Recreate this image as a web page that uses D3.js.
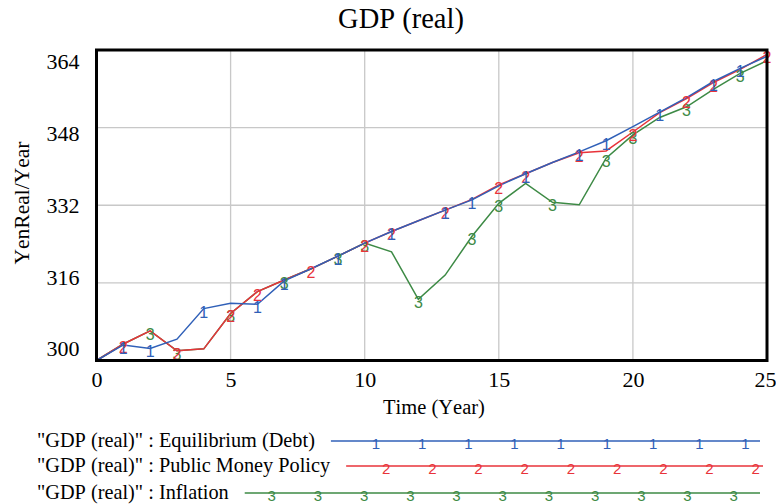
<!DOCTYPE html>
<html>
<head>
<meta charset="utf-8">
<script src="https://cdn.jsdelivr.net/npm/d3@7/dist/d3.min.js"></script>
<style>
  html, body { margin: 0; padding: 0; background: #fff; }
  svg { display: block; }
  text { font-kerning: none; }
</style>
</head>
<body>
<svg id="chart" width="776" height="504"></svg>
<script>
// ---------------- DATA ----------------
const years = d3.range(0, 26);
const equilibriumDebt = [300, 303.2, 302.5, 304.4, 310.7, 311.8, 311.6, 316.4, 318.9, 321.5, 324.2, 326.6, 328.8, 331.0, 333.1, 336.0, 338.5, 340.8, 343.0, 345.3, 348.2, 351.2, 354.2, 357.5, 360.2, 362.7];
const publicMoneyPolicy = [300, 303.4, 306.1, 302.0, 302.4, 309.7, 314.2, 316.6, 318.9, 321.5, 324.2, 326.6, 328.8, 331.0, 333.2, 336.2, 338.5, 340.8, 342.8, 343.2, 347.1, 351.1, 354.0, 357.3, 360.0, 363.1];
const inflation = [300, 303.4, 306.1, 302.0, 302.4, 309.7, 314.2, 316.6, 318.9, 321.5, 324.2, 322.4, 312.6, 317.6, 325.6, 332.4, 336.5, 332.6, 332.1, 341.7, 346.5, 350.1, 352.3, 355.9, 359.2, 361.8];
const markerYears1 = [1, 2, 4, 6, 7, 9, 11, 13, 14, 16, 18, 19, 21, 23, 24];
const markerYears2 = [1, 3, 5, 6, 8, 10, 11, 13, 15, 16, 18, 20, 22, 23, 25];
const markerYears3 = [2, 3, 5, 7, 9, 10, 12, 14, 15, 17, 19, 20, 22, 24];
const xTicks = [0, 5, 10, 15, 20, 25];
const yTicks = [300, 316, 332, 348, 364];
const seriesNames = ['"GDP (real)" : Equilibrium (Debt)', '"GDP (real)" : Public Money Policy', '"GDP (real)" : Inflation'];
const seriesSymbols = ["1", "2", "3"];
const title = "GDP (real)";
const xTitle = "Time (Year)";
const yTitle = "YenReal/Year";

// ---------------- LAYOUT ----------------
const SERIF = '"Liberation Serif"';
const SANS = '"Liberation Sans"';
const colors = ["#3060b8", "#e8333a", "#3d8a45"];
const svg = d3.select("#chart");
const L = 96.5, R = 767, T = 50, B = 360.5;
const x = d3.scaleLinear().domain([0, 25]).range([L, R]);
const y = d3.scaleLinear().domain([300, 364]).range([B, T]);

// gridlines
const grid = svg.append("g");
grid.selectAll("line.v").data(xTicks.slice(1, -1)).join("line")
  .attr("x1", d => x(d)).attr("x2", d => x(d)).attr("y1", T).attr("y2", B)
  .attr("stroke", "#c8c8c8").attr("stroke-width", 1.3);
grid.selectAll("line.h").data(yTicks.slice(1, -1)).join("line")
  .attr("x1", L).attr("x2", R).attr("y1", d => y(d)).attr("y2", d => y(d))
  .attr("stroke", "#c8c8c8").attr("stroke-width", 1.3);

// series
const series = [
  { values: equilibriumDebt, marks: markerYears1 },
  { values: publicMoneyPolicy, marks: markerYears2 },
  { values: inflation, marks: markerYears3 }
];
const line = d3.line().x((d, i) => x(years[i])).y(d => y(d));
const order = [2, 1, 0];
const plot = svg.append("g");
order.forEach(k => {
  plot.append("path").datum(series[k].values)
    .attr("d", line).attr("fill", "none")
    .attr("stroke", colors[k]).attr("stroke-width", 1.5);
});
order.forEach(k => {
  plot.append("g").selectAll("text").data(series[k].marks).join("text")
    .style("font-family", SANS)
    .attr("x", d => x(d)).attr("y", d => y(series[k].values[years.indexOf(d)]) + 9)
    .attr("text-anchor", "middle").style("font-size", "16px")
    .attr("fill", colors[k]).text(seriesSymbols[k]);
});

// frame
svg.append("rect").attr("x", L).attr("y", T).attr("width", R - L).attr("height", B - T)
  .attr("fill", "none").attr("stroke", "#000").attr("stroke-width", 3);

// axes
const xAxis = svg.append("g").attr("transform", `translate(0,${B})`)
  .call(d3.axisBottom(x).tickValues(xTicks).tickSize(0).tickPadding(11).tickFormat(d3.format("d")));
xAxis.attr("font-family", null).attr("font-size", null);
xAxis.select(".domain").remove();
xAxis.selectAll("text").style("font-family", SERIF).style("font-size", "22px").attr("fill", "#000")
  .attr("text-anchor", (d, i) => i === xTicks.length - 1 ? "end" : "middle")
  .attr("dx", (d, i) => i === xTicks.length - 1 ? "9px" : "0");

const yAxis = svg.append("g").attr("transform", `translate(${L},0)`)
  .call(d3.axisLeft(y).tickValues(yTicks).tickSize(0).tickPadding(17).tickFormat(d3.format("d")));
yAxis.attr("font-family", null).attr("font-size", null);
yAxis.select(".domain").remove();
yAxis.selectAll(".tick text").style("font-family", SERIF).style("font-size", "22px").attr("fill", "#000")
  .attr("dy", d => ((205 - y(d)) * 0.075 + 7) + "px");

// titles
svg.append("text").style("font-family", SERIF).attr("x", 401).attr("y", 28)
  .attr("text-anchor", "middle").style("font-size", "28.5px").attr("fill", "#000").text(title);
svg.append("text").style("font-family", SERIF).attr("x", 434).attr("y", 414)
  .attr("text-anchor", "middle").style("font-size", "20.5px").attr("fill", "#000").text(xTitle);
svg.append("text").style("font-family", SERIF)
  .attr("transform", `translate(29,203) rotate(-90)`)
  .attr("text-anchor", "middle").style("font-size", "21.5px").attr("fill", "#000").text(yTitle);

// legend
const legendRows = [441, 466, 493];
const legendEnd = [760, 763, 760];
const firstMarkOffset = [45, 40, 27];
const legend = svg.append("g");
seriesNames.forEach((name, k) => {
  const t = legend.append("text").style("font-family", SERIF).attr("x", 37).attr("y", legendRows[k] + 6)
    .style("font-size", "20.3px").attr("fill", "#000").text(name);
  const w = t.node().getComputedTextLength();
  const x0 = 37 + w + 16;
  legend.append("line").attr("x1", x0).attr("x2", legendEnd[k])
    .attr("y1", legendRows[k]).attr("y2", legendRows[k])
    .attr("stroke", colors[k]).attr("stroke-width", 1.5);
  const marks = d3.range(x0 + firstMarkOffset[k], legendEnd[k] + 4, 46.2);
  legend.append("g").selectAll("text").data(marks).join("text")
    .style("font-family", SANS).attr("x", d => d).attr("y", legendRows[k] + 8)
    .attr("text-anchor", "middle").style("font-size", "15px").attr("fill", colors[k])
    .text(seriesSymbols[k]);
});
</script>
</body>
</html>
